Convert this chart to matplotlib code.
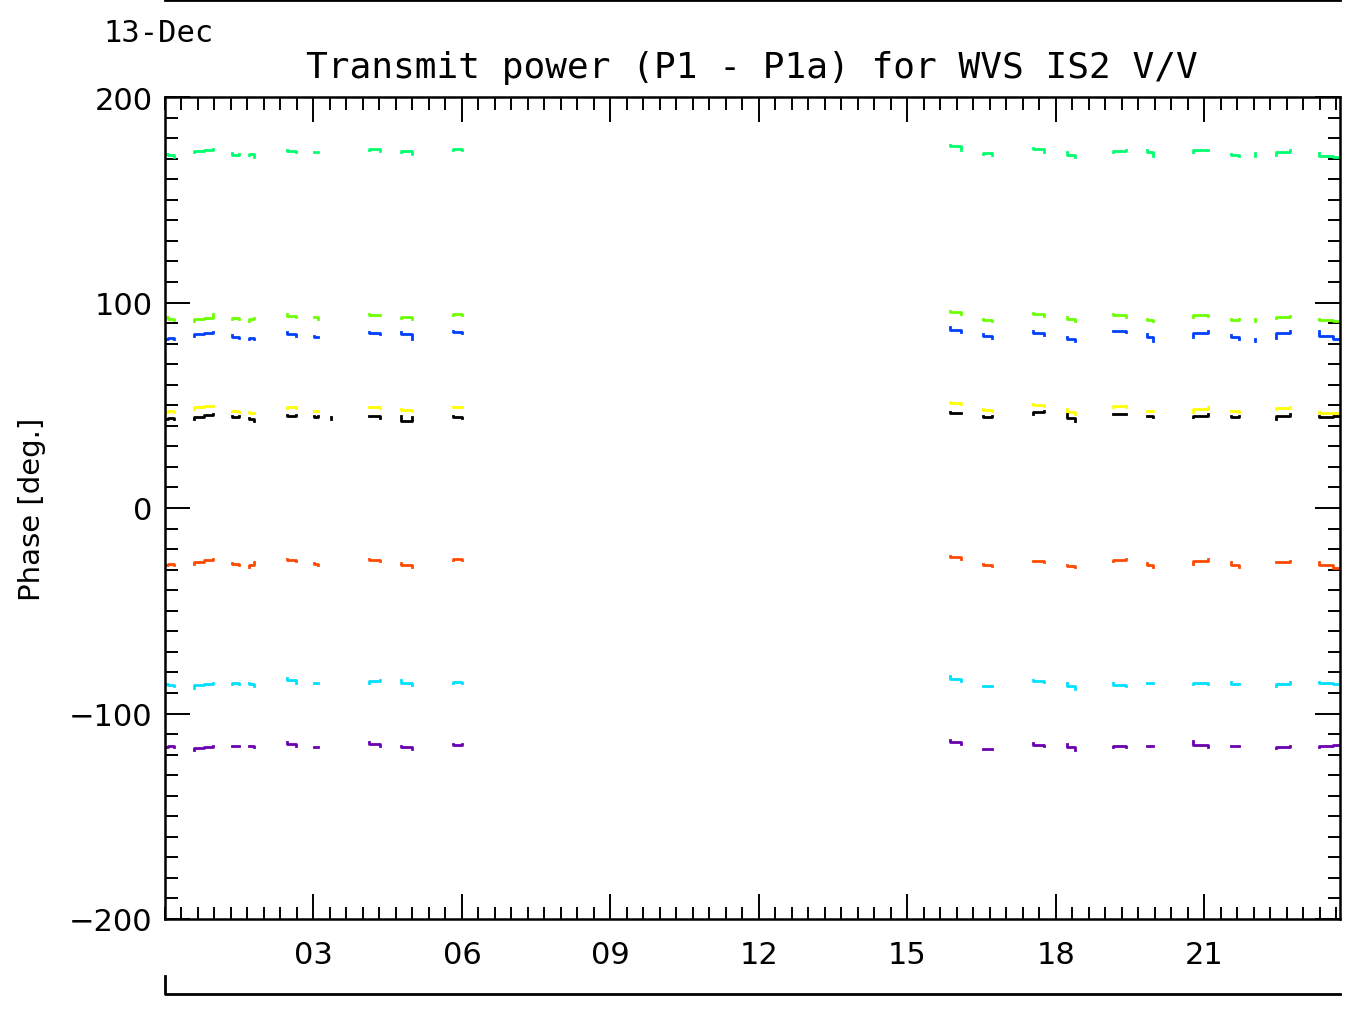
import matplotlib
matplotlib.use("Agg")
import matplotlib.pyplot as plt
import numpy as np
from matplotlib.lines import Line2D
from matplotlib.ticker import MultipleLocator, FixedLocator, FuncFormatter

# hour of day for each run of samples (gaps between runs are left blank)
hour_runs = [
    [0.00, 0.12, 0.24], [0.48, 0.68, 0.88, 1.07], [1.29, 1.42, 1.56],
    [1.64, 1.74, 1.84], [2.36, 2.55, 2.75], [2.97, 3.05, 3.13], [3.31, 3.41],
    [4.02, 4.24, 4.46], [4.67, 4.88, 5.09], [5.72, 5.91, 6.10],
    [15.76, 15.98, 16.20], [16.42, 16.62, 16.81], [17.44, 17.65, 17.86],
    [18.14, 18.31, 18.48], [19.01, 19.28, 19.54], [19.78, 19.90, 20.02],
    [20.64, 20.92, 21.21], [21.45, 21.62, 21.78], [21.98, 22.06],
    [22.30, 22.58, 22.87], [23.19, 23.46, 23.74],
]

phase_a = [  # spring green
    [172.5, 172.0, 170.8], [173.1, 173.6, 174.0, 174.6], [172.8, 171.8, 172.4],
    [171.8, 172.4, 170.8], [174.0, 173.9, 173.4], [173.4, 173.0, 173.2], [171.8, 171.8],
    [174.0, 174.6, 173.9], [173.4, 173.9, 172.3], [174.4, 174.9, 174.0],
    [176.6, 176.2, 174.4], [172.3, 172.9, 171.8], [175.0, 174.6, 173.1],
    [173.4, 171.8, 170.7], [173.4, 173.6, 174.4], [174.0, 173.0, 171.4],
    [173.4, 174.4, 174.0], [172.5, 171.8, 171.4], [172.8, 171.4],
    [171.8, 173.4, 174.0], [172.8, 171.4, 170.9],
]
phase_b = [  # green
    [93.0, 92.0, 91.5], [91.0, 92.0, 92.5, 94.4], [92.0, 92.5, 91.8],
    [91.0, 92.0, 92.5], [94.4, 93.5, 93.0], [93.0, 92.8, 92.0], [91.5, 91.5],
    [94.4, 94.0, 93.7], [92.5, 93.0, 92.0], [94.0, 94.4, 94.0],
    [96.0, 95.5, 94.4], [92.0, 91.5, 91.0], [95.0, 94.2, 93.4],
    [93.0, 92.0, 91.0], [94.4, 93.8, 93.0], [92.0, 91.5, 91.0],
    [93.0, 94.0, 93.5], [92.0, 91.5, 92.0], [92.0, 91.0],
    [92.5, 93.0, 93.5], [92.0, 91.5, 91.0],
]
phase_c = [  # blue
    [82.2, 82.5, 82.0], [83.8, 84.5, 85.0, 85.5], [84.0, 83.2, 82.7],
    [82.0, 82.5, 82.0], [85.5, 84.5, 83.8], [83.5, 83.0, 83.2], [81.3, 81.3],
    [85.5, 85.0, 84.5], [85.5, 84.5, 82.0], [86.0, 85.5, 85.0],
    [88.0, 86.8, 85.5], [84.6, 83.5, 82.5], [86.3, 85.0, 84.0],
    [83.0, 82.0, 81.5], [86.0, 86.0, 85.5], [84.7, 83.0, 81.5],
    [83.0, 85.0, 86.3], [84.0, 83.0, 82.0], [82.0, 81.5],
    [82.8, 85.0, 86.0], [86.0, 83.5, 82.0],
]
phase_d = [  # yellow
    [46.6, 47.0, 46.8], [48.2, 49.0, 49.5, 49.8], [47.0, 47.4, 46.8],
    [46.5, 46.2, 46.0], [48.8, 49.0, 48.5], [47.4, 47.2, 47.0], [47.0, 47.0],
    [49.0, 49.2, 48.6], [48.0, 47.6, 47.0], [49.0, 49.3, 49.0],
    [51.7, 51.0, 50.6], [48.2, 47.8, 47.4], [50.6, 50.2, 49.8],
    [48.0, 46.5, 45.5], [49.0, 49.4, 49.0], [47.4, 47.0, 47.2],
    [46.6, 48.2, 49.3], [47.0, 47.4, 46.8], [47.0, 47.0],
    [48.2, 48.8, 49.0], [46.6, 46.2, 46.0],
]
phase_e = [  # black
    [43.3, 43.8, 43.3], [43.3, 44.5, 45.2, 45.8], [44.6, 44.2, 44.6],
    [44.0, 43.5, 42.5], [45.3, 45.0, 45.3], [44.7, 44.5, 44.7], [44.5, 43.3],
    [45.0, 44.6, 44.0], [45.0, 42.5, 44.5], [45.0, 44.5, 44.0],
    [46.6, 46.4, 46.2], [45.0, 44.2, 44.6], [45.8, 46.5, 47.4],
    [45.8, 44.0, 42.5], [45.6, 45.8, 45.6], [45.0, 44.6, 44.2],
    [44.2, 45.0, 45.8], [45.0, 44.5, 45.0], [44.2, 44.2],
    [43.3, 44.8, 45.8], [45.0, 44.2, 44.6],
]
phase_f = [  # orange red
    [-27.7, -27.3, -27.7], [-27.3, -26.2, -25.5, -24.8], [-26.6, -27.2, -27.7],
    [-28.7, -27.5, -26.3], [-24.8, -25.4, -26.0], [-26.6, -27.2, -27.7], [-28.7, -28.7],
    [-24.8, -25.3, -26.0], [-27.0, -27.8, -28.7], [-25.1, -25.0, -25.3],
    [-23.2, -24.0, -24.8], [-27.3, -27.6, -28.0], [-26.0, -26.0, -26.2],
    [-27.5, -28.0, -28.7], [-26.0, -25.5, -25.0], [-26.6, -27.6, -28.7],
    [-27.3, -26.0, -24.8], [-26.5, -27.5, -28.5], [-27.3, -27.3],
    [-26.5, -26.2, -26.0], [-26.5, -27.8, -29.0],
]
phase_g = [  # cyan
    [-85.5, -86.0, -86.5], [-87.4, -86.2, -85.5, -85.0], [-85.5, -85.0, -85.7],
    [-85.0, -85.5, -86.5], [-82.5, -83.5, -85.0], [-85.0, -85.0, -85.2], [-85.8, -85.8],
    [-85.0, -84.2, -83.5], [-83.8, -85.0, -86.0], [-85.0, -84.8, -85.0],
    [-81.6, -83.0, -84.0], [-86.8, -86.8, -86.8], [-83.5, -84.2, -84.8],
    [-85.0, -86.5, -88.0], [-85.0, -86.0, -86.5], [-85.0, -85.2, -85.0],
    [-85.5, -85.0, -85.5], [-84.5, -85.5, -85.8], [-85.0, -85.0],
    [-86.5, -85.5, -84.8], [-84.5, -85.2, -85.8],
]
phase_h = [  # purple
    [-116.5, -116.0, -116.5], [-118.0, -117.0, -116.2, -115.8], [-116.0, -115.8, -116.0],
    [-115.8, -116.0, -116.5], [-114.0, -115.0, -115.8], [-116.5, -116.2, -116.5], [-115.8, -115.8],
    [-114.0, -115.0, -116.0], [-115.8, -116.5, -117.3], [-115.0, -115.5, -115.0],
    [-112.7, -113.8, -114.8], [-117.5, -117.5, -117.5], [-114.5, -115.2, -116.0],
    [-115.0, -116.5, -117.8], [-116.5, -116.0, -116.5], [-116.0, -116.0, -116.0],
    [-113.6, -115.5, -116.5], [-116.0, -115.6, -116.0], [-115.0, -115.0],
    [-117.0, -116.2, -115.7], [-116.5, -115.8, -115.5],
]

series = [phase_a, phase_b, phase_c, phase_d, phase_e, phase_f, phase_g, phase_h]
colors = ["#00ff6e", "#6cff00", "#0040ff", "#ffff00", "#000000",
          "#ff4a00", "#00e0ff", "#6a00b0"]

x_ticks = [3, 6, 9, 12, 15, 18, 21]
y_ticks = [-200, -100, 0, 100, 200]


def join_runs(runs):
    # put a NaN between runs so the line breaks at the data gaps
    out = []
    for r in runs:
        out.extend(r)
        out.append(np.nan)
    return np.array(out[:-1])


W, H = 1351, 1012
fig = plt.figure(figsize=(W / 100, H / 100), dpi=100)
ax = fig.add_axes([165 / W, 1 - 920 / H, 1175 / W, 822 / H])

hours = join_runs(hour_runs)
for vals, col in zip(series, colors):
    ax.plot(hours, join_runs(vals), color=col, lw=2.0, drawstyle="steps-mid")

ax.set_xlim(0, 23.74)
ax.set_ylim(-200, 200)

ax.xaxis.set_major_locator(FixedLocator(x_ticks))
ax.xaxis.set_major_formatter(FuncFormatter(lambda v, p: "%02d" % v))
ax.xaxis.set_minor_locator(MultipleLocator(1 / 3))
ax.yaxis.set_major_locator(FixedLocator(y_ticks))
ax.yaxis.set_minor_locator(MultipleLocator(10))

ax.tick_params(which="both", direction="in", top=True, right=True, width=1.4,
               labelsize=22, color="black")
ax.tick_params(which="major", length=18)
ax.tick_params(which="minor", length=9)
ax.tick_params(axis="x", which="major", pad=15)
ax.tick_params(axis="y", which="major", pad=9)
for s in ax.spines.values():
    s.set_linewidth(1.8)

ax.set_ylabel("Phase [deg.]", fontsize=21)
ax.yaxis.set_label_coords(-0.101, 0.5)

fig.text(752 / W, 1 - 68 / H, "Transmit power (P1 - P1a) for WVS IS2 V/V",
         ha="center", va="center", fontsize=26, family="DejaVu Sans Mono")
fig.text(103 / W, 1 - 33 / H, "13-Dec", ha="left", va="center", fontsize=22,
         family="DejaVu Sans Mono")

# outer date axis lines
fig.add_artist(Line2D([165 / W, 1340 / W], [1 - 1 / H, 1 - 1 / H],
                      transform=fig.transFigure, color="black", lw=2))
fig.add_artist(Line2D([165 / W, 165 / W, 1340 / W],
                      [1 - 977 / H, 1 - 995 / H, 1 - 995 / H],
                      transform=fig.transFigure, color="black", lw=2))

fig.savefig("out.png", dpi=100)
